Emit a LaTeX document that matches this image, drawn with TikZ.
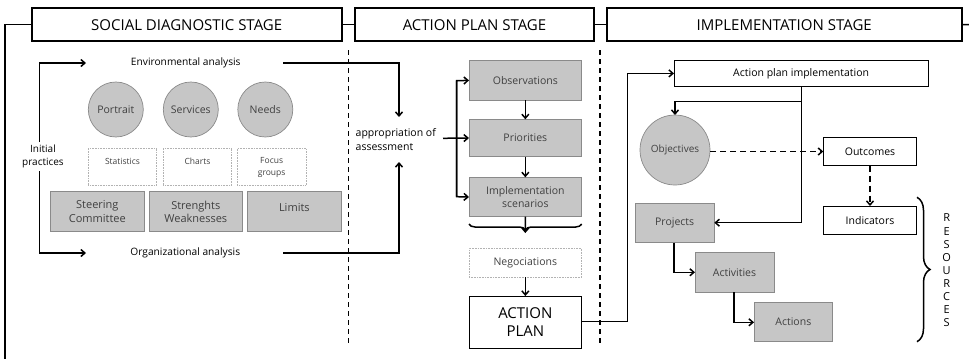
\documentclass[tikz,border=0pt]{standalone}
\usepackage{fontspec}
\setmainfont{Open Sans}
\usetikzlibrary{arrows.meta,decorations.pathreplacing,calc}
\definecolor{boxgray}{HTML}{C6C6C6}
\definecolor{edgegray}{HTML}{8A8A8A}
\definecolor{txtgray}{HTML}{404040}
\begin{document}
\begin{tikzpicture}[x=1pt,y=-1pt,
  every node/.style={inner sep=0pt,outer sep=0pt},
  stagebox/.style={draw=black,line width=2.2pt,fill=white,font=\fontsize{15}{17}\selectfont},
  graybox/.style={draw=edgegray,line width=0.7pt,fill=boxgray,text=txtgray,font=\fontsize{10.5}{13}\selectfont,align=center},
  graycirc/.style={circle,draw=edgegray,line width=0.7pt,fill=boxgray,text=txtgray,font=\fontsize{10.5}{12}\selectfont},
  dotbox/.style={draw=gray!60,densely dotted,line width=0.6pt,text=txtgray,font=\fontsize{8.5}{12}\selectfont,align=center},
  whitebox/.style={draw=black,line width=0.8pt,fill=white,font=\fontsize{10.5}{12}\selectfont,align=center},
  lbl/.style={font=\fontsize{10.2}{14}\selectfont,align=left},
  arr/.style={line width=1.5pt,-{Straight Barb[length=4pt,width=7pt]}},
  ln/.style={line width=1.5pt},
  dsh/.style={line width=1.5pt,dash pattern=on 6pt off 4pt}]
\useasboundingbox (0,0) rectangle (969,359);

% dashed separators
\draw[line width=1.4pt,dash pattern=on 5pt off 4pt] (348.3,50) -- (348.3,346);
\draw[line width=1.4pt,dash pattern=on 5pt off 4pt] (600,50) -- (600,346);

% stage boxes
\node[stagebox,minimum width=310pt,minimum height=32.7pt,anchor=north west] (s1) at (31.7,8.3) {SOCIAL DIAGNOSTIC STAGE};
\node[stagebox,minimum width=239pt,minimum height=32.7pt,anchor=north west] (s2) at (355,8.3) {ACTION PLAN STAGE};
\node[stagebox,minimum width=355pt,minimum height=32.7pt,anchor=north west] (s3) at (606.7,8.3) {IMPLEMENTATION STAGE};
\coordinate (lb) at (5,359);
\coordinate (re) at (969,24.7);
\draw[ln] (s1.west) -| (lb);
\draw[ln] (s1.east) -- (s2.west);
\draw[ln] (s2.east) -- (s3.west);
\draw[ln] (s3.east) -- (re);

% social diagnostic
\node[lbl] (env) at (185.8,63) {Environmental analysis};
\node[lbl] (org) at (185.3,253) {Organizational analysis};
\node[lbl,align=center,font=\fontsize{10}{13}\selectfont] (init) at (43,156.5) {Initial\\practices};
\coordinate (el) at (39.3,63);
\coordinate (ol) at (39.3,253);
\coordinate (ea) at (86,63);
\coordinate (oa) at (86,253);
\draw[ln] (39.3,142) -- (el);
\draw[arr] (el) -- (ea);
\draw[ln] (39.3,171) -- (ol);
\draw[arr] (ol) -- (oa);

\node[graycirc,minimum size=55pt] (portrait) at (115.8,109.5) {Portrait};
\node[graycirc,minimum size=55pt] (services) at (190.8,109.5) {Services};
\node[graycirc,minimum size=55pt] (needs) at (265.3,109.5) {Needs};

\node[dotbox,minimum width=68.4pt,minimum height=36.7pt,anchor=north west] (stat) at (88.3,148.3) {};
\node[dotbox,minimum width=68.4pt,minimum height=36.7pt,anchor=north west] (charts) at (163.3,148.3) {};
\node[dotbox,minimum width=68.7pt,minimum height=36.7pt,anchor=north west] (focus) at (237.3,148.3) {};
\node[dotbox,draw=none] at ($(stat.north)+(0,13)$) {Statistics};
\node[dotbox,draw=none] at ($(charts.north)+(0,13)$) {Charts};
\node[dotbox,draw=none] at ($(focus.north)+(0,19.5)$) {Focus\\groups};

\node[graybox,minimum width=93.3pt,minimum height=40pt,anchor=north west,font=\fontsize{11}{13.5}\selectfont] (steer) at (50.7,191.7) {Steering\\Committee};
\node[graybox,minimum width=93pt,minimum height=40pt,anchor=north west,font=\fontsize{11}{13.5}\selectfont] (sw) at (149.3,191.7) {Strenghts\\Weaknesses};
\node[graybox,minimum width=93.3pt,minimum height=40pt,anchor=north west,text depth=8pt,font=\fontsize{11}{13.5}\selectfont] (lim) at (247.7,191.7) {Limits};

% appropriation
\node[lbl,anchor=west,font=\fontsize{10.5}{14}\selectfont] (appr) at (355.7,139.5) {appropriation of\\assessment};
\coordinate (ee) at (283,63);
\coordinate (oe) at (283,253);
\draw[arr] (ee) -| (399,117);
\draw[arr] (oe) -| (399,162);

% action plan column
\node[graybox,minimum width=112.7pt,minimum height=39.3pt,anchor=north west] (obs) at (469,60.7) {Observations};
\node[graybox,minimum width=112.7pt,minimum height=37.4pt,anchor=north west] (prio) at (469,119.3) {Priorities};
\node[graybox,minimum width=112.7pt,minimum height=39.4pt,anchor=north west] (scen) at (469,177.3) {Implementation\\scenarios};
\draw[arr] (obs) -- (prio);
\draw[arr] (prio) -- (scen);
\coordinate (lp1) at (456.7,80.7);
\coordinate (lp2) at (456.7,196.7);
\draw[arr] (443,138.3) -- (prio.west);
\draw[arr] (lp2) -- (lp1) -- (obs.west);
\draw[arr] (lp1) -- (lp2) -- (scen.west);
\draw[line width=1.5pt,decorate,decoration={brace,amplitude=6pt,mirror}] (469,224) -- (581.7,224);
\coordinate (bt) at (525.3,233);
\draw[arr] (scen.south) -- (bt);
\node[dotbox,minimum width=112.7pt,minimum height=29pt,anchor=north west,font=\fontsize{10.5}{12}\selectfont] (neg) at (469,248.3) {Negociations};
\node[whitebox,minimum width=112.7pt,minimum height=52.3pt,anchor=north west,font=\fontsize{15}{18}\selectfont] (ap) at (469,296) {ACTION\\PLAN};
\draw[arr] (neg) -- (ap);

% implementation
\node[whitebox,minimum width=254.3pt,minimum height=25.3pt,anchor=north west] (api) at (674,60.7) {Action plan implementation};
\coordinate (v1) at (627.7,321.7);
\draw[ln] (ap.east |- v1) -- (v1);
\draw[arr] (v1) -- (627.7,73.4) -- (api.west |- 0,73.4);
\node[graycirc,minimum size=70pt,font=\fontsize{10}{12}\selectfont] (obj) at (675,150) {Objectives};
\node[whitebox,minimum width=93.4pt,minimum height=28.4pt,anchor=north west] (outc) at (823.3,137.3) {Outcomes};
\node[whitebox,minimum width=93.4pt,minimum height=28.3pt,anchor=north west] (ind) at (823.3,206) {Indicators};
\node[graybox,minimum width=79.3pt,minimum height=39.4pt,anchor=north west] (proj) at (635,203.3) {Projects};
\node[graybox,minimum width=79pt,minimum height=40pt,anchor=north west] (act) at (695,252.3) {Activities};
\node[graybox,minimum width=78.7pt,minimum height=39.4pt,anchor=north west] (acts) at (754,302.3) {Actions};
\coordinate (j1) at (801.7,101.7);
\draw[arr] (api.south -| j1) -- (801.7,222.7) -- (proj.east |- 0,222.7);
\draw[arr] (j1) -| (obj.north);
\draw[dsh,-{Straight Barb[length=4pt,width=7pt]}] (obj.east |- 0,151.5) -- (outc.west |- 0,151.5);
\draw[dsh,-{Straight Barb[length=4pt,width=7pt]}] (outc.south) -- (ind.north);
\draw[arr] (proj.south -| 674,0) |- (act.west |- 0,272.3);
\draw[arr] (act.south -| 734,0) |- (acts.west |- 0,322.3);
\draw[line width=1.5pt,decorate,decoration={brace,amplitude=13pt}] (917,197.3) -- (917,341.7);
\node[font=\fontsize{11}{13.1}\selectfont,align=center] (res) at (946.7,270.5) {R\\E\\S\\O\\U\\R\\C\\E\\S};
\end{tikzpicture}
\end{document}
